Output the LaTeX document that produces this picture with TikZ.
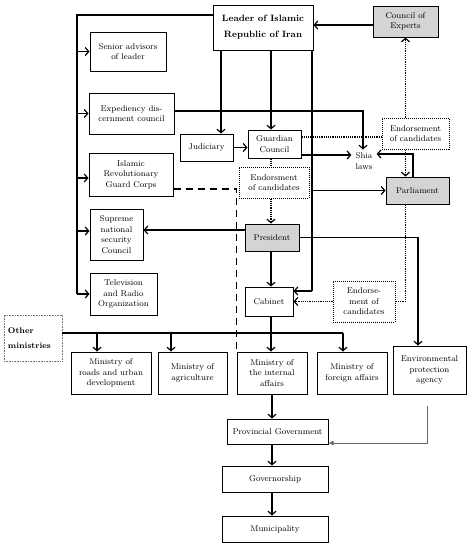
\documentclass[tikz,border=0pt]{standalone}
\usetikzlibrary{arrows.meta,calc}
\begin{document}
\begin{tikzpicture}[x=1pt,y=-1pt,
  box/.style={draw,line width=1pt,inner sep=1pt,align=center,font=\fontsize{8.4}{10.6}\selectfont},
  gbox/.style={box,fill=black!17},
  dbox/.style={box,densely dotted,line width=1pt},
  ln/.style={line width=1.2pt},
  arr/.style={ln,-{Straight Barb[length=3.5pt,width=8pt]}},
  dotl/.style={line width=1.2pt,densely dotted},
  darr/.style={dotl,-{Straight Barb[length=3.5pt,width=8pt]}},
  dashl/.style={line width=1.2pt,dash pattern=on 7pt off 5pt}]
\useasboundingbox (0,0) rectangle (473,550);

% nodes
\node[box,minimum width=100pt,minimum height=45pt,font=\bfseries\fontsize{9.2}{16}\selectfont] (leader) at (263,27.5) {Leader of Islamic\\Republic of Iran};
\node[gbox,minimum width=65pt,minimum height=31pt] (coe) at (405.5,21.5) {Council of\\Experts};
\node[box,minimum width=76pt,minimum height=39pt] (senior) at (128,51.5) {Senior advisors\\of leader};
\node[box,minimum width=85pt,minimum height=41pt] (exped) at (131.5,113.5) {Expediency dis-\\cernment council};
\node[box,minimum width=84pt,minimum height=43pt] (irgc) at (131,174.5) {Islamic\\Revolutionary\\Guard Corps};
\node[box,minimum width=53pt,minimum height=51pt] (snsc) at (116.5,234.5) {Supreme\\national\\security\\Council};
\node[box,minimum width=67pt,minimum height=42pt] (tv) at (123.5,294) {Television\\and Radio\\Organization};
\node[box,minimum width=53pt,minimum height=27pt] (jud) at (206.5,147.5) {Judiciary};
\node[box,minimum width=53pt,minimum height=28pt] (guard) at (274.5,144) {Guardian\\Council};
\node[align=center,inner sep=1pt,font=\fontsize{8.4}{10.6}\selectfont] (shia) at (364,161) {Shia\\laws};
\node[dbox,minimum width=67pt,minimum height=31pt] (e1) at (415.5,133.5) {Endorsement\\of candidates};
\node[gbox,minimum width=63pt,minimum height=27pt] (parl) at (417.5,190.5) {Parliament};
\node[dbox,minimum width=70pt,minimum height=31pt] (e2) at (274,182.5) {Endorsment\\of candidates};
\node[gbox,minimum width=54pt,minimum height=27pt] (pres) at (272,237.5) {President};
\node[box,minimum width=48pt,minimum height=29pt] (cab) at (269,301.5) {Cabinet};
\node[dbox,minimum width=62pt,minimum height=41pt] (e3) at (364,301.5) {Endorse-\\ment of\\candidates};
\node[draw=black!55,densely dotted,line width=0.6pt,minimum width=58pt,minimum height=46pt,inner sep=3pt,align=left,text width=50pt,font=\bfseries\fontsize{8.2}{15}\selectfont] (other) at (33,338) {Other\\ministries};
\node[box,minimum width=80pt,minimum height=42pt] (roads) at (111,373) {Ministry of\\roads and urban\\development};
\node[box,minimum width=69pt,minimum height=42pt] (agri) at (192.5,373) {Ministry of\\agriculture};
\node[box,minimum width=70pt,minimum height=42pt] (inter) at (272,373) {Ministry of\\the internal\\affairs};
\node[box,minimum width=70pt,minimum height=42pt] (foreign) at (352,373) {Ministry of\\foreign affairs};
\node[box,minimum width=73pt,minimum height=48pt] (env) at (429.5,370) {Environmental\\protection\\agency};
\node[box,minimum width=101pt,minimum height=25pt] (prov) at (277.5,431.5) {Provincial Government};
\node[box,minimum width=106pt,minimum height=26pt] (gov) at (275,479) {Governorship};
\node[box,minimum width=106pt,minimum height=26pt] (mun) at (275,529) {Municipality};

% coordinates
\coordinate (bustop) at (77,15);
\coordinate (busbot) at (77,294);
\coordinate (rline) at (312,50);

% leader connections
\draw[arr] (coe.west |- 0,25) -- (leader.east |- 0,25);
\draw[ln] (leader.west |- bustop) -- (bustop) -- (busbot);
\draw[arr] (bustop |- senior.west) -- (senior.west);
\draw[arr] (bustop |- exped.west) -- (exped.west);
\draw[arr] (bustop |- 0,178) -- (irgc.west |- 0,178);
\draw[arr] (bustop |- 0,231) -- (snsc.west |- 0,231);
\draw[arr] (busbot) -- (tv.west |- busbot);
\draw[arr] (leader.south -| 221,0) -- (jud.north -| 221,0);
\draw[arr] (leader.south -| 271,0) -- (guard.north -| 271,0);
\draw[arr] (jud.east) -- (guard.west |- jud.east);
\draw[ln] (rline) -- (rline |- 0,291);
\draw[arr] (rline |- 0,291) -- (cab.east |- 0,291);
\draw[arr] (rline |- parl.west) -- (parl.west);

% Shia laws
\draw[arr,shorten >=2pt] (exped.east |- 0,111) -| (shia.north -| 363,0);
\draw[arr,shorten >=3pt] (guard.east |- 0,155) -- (shia.west |- 0,155);
\draw[arr,shorten >=3pt] (parl.north -| 413,0) |- (shia.east |- 0,154);

% endorsements
\draw[darr] (coe.south |- e1.north) -- (coe.south);
\draw[darr] (coe.south |- e1.south) -- (coe.south |- parl.north);
\draw[dotl] (guard.east |- 0,137) -- (e1.west |- 0,137);
\draw[dotl] (guard.south -| 271,0) -- (e2.north -| 271,0);
\draw[darr] (e2.south -| 271,0) -- (pres.north -| 271,0);
\draw[dotl] (coe.south |- parl.south) |- (e3.east);
\draw[darr] (e3.west) -- (cab.east |- e3.west);

% president
\draw[arr] (pres.west |- 0,230) -- (snsc.east |- 0,230);
\draw[arr] (pres.south -| 271,0) -- (cab.north -| 271,0);
\draw[arr] (pres.east) -| (env.north -| 418,0);

% dashed IRGC
\draw[dashl] (irgc.east |- 0,189) -| (inter.north west);

% ministries bus
\draw[ln] (other.east |- 0,333) -- (343,333);
\draw[arr] (343,333) -- (foreign.north -| 343,0);
\draw[arr] (97,333) -- (roads.north -| 97,0);
\draw[arr] (171,333) -- (agri.north -| 171,0);
\draw[arr] (cab.south -| 271,0) -- (inter.north -| 271,0);

% lower chain
\draw[arr] (inter.south -| 272,0) -- (prov.north -| 272,0);
\draw[arr] (prov.south -| 272,0) -- (gov.north -| 272,0);
\draw[arr] (gov.south -| 272,0) -- (mun.north -| 272,0);
\draw[draw=black!60,line width=0.7pt,-{Latex[length=5pt,width=5pt]}] (427,406) |- (prov.east |- 0,443);
\end{tikzpicture}
\end{document}
